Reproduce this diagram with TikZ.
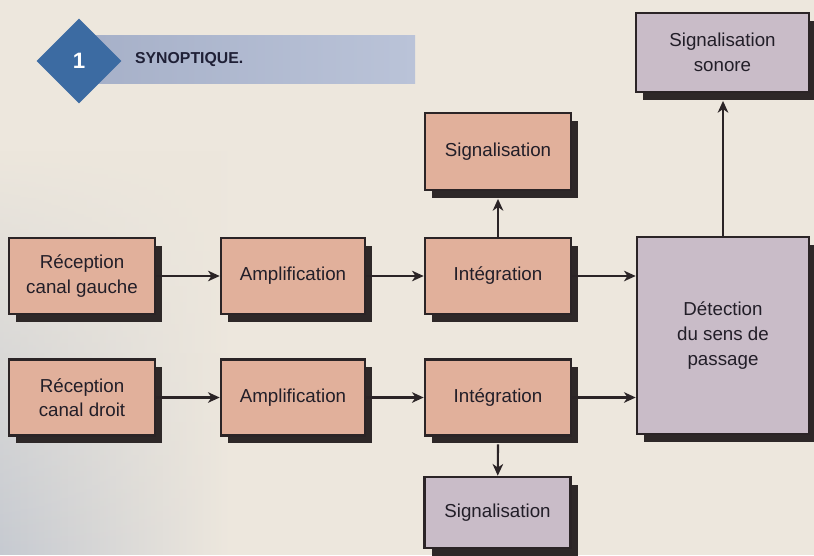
\documentclass[tikz,border=0pt]{standalone}
\usepackage{fontspec}
\setmainfont{Liberation Sans}
\usetikzlibrary{arrows.meta,shapes.geometric,shadows,fadings}
\definecolor{papier}{HTML}{EDE7DD}
\definecolor{brume}{HTML}{C6CAD1}
\definecolor{saumon}{HTML}{E1B09B}
\definecolor{lavande}{HTML}{C9BCC8}
\definecolor{bord}{HTML}{2B2426}
\definecolor{ombre}{HTML}{2E2828}
\definecolor{encre}{HTML}{221E28}
\definecolor{losange}{HTML}{3C6BA2}
\definecolor{bandeA}{HTML}{A6B0C8}
\definecolor{bandeB}{HTML}{BAC3D8}
\definecolor{titre}{HTML}{1F2036}

\begin{document}
\begin{tikzpicture}[x=0.03cm, y=-0.03cm, >={Stealth[length=10pt,width=9pt,inset=3pt]},
    bloc/.style={draw=bord, line width=2.2pt, fill=saumon, text=encre, align=center,
        minimum width=4.38cm, minimum height=2.28cm, inner sep=2pt,
        font=\fontsize{16}{21}\selectfont,
        drop shadow={shadow xshift=6pt, shadow yshift=-6.5pt, fill=ombre, opacity=1}},
    blocmauve/.style={bloc, fill=lavande},
    fleche/.style={->, line width=1.8pt, draw=bord}]
    \useasboundingbox (0,0) rectangle (814,555);
    \fill[papier] (0,0) rectangle (814,555);
    \shade[left color=brume, right color=papier, path fading=north] (0,150) rectangle (230,555);

    \fill[left color=bandeA, right color=bandeB] (79,35) rectangle (415,83);
    \node[diamond, fill=losange, minimum width=2.55cm, minimum height=2.55cm, inner sep=0pt,
        text=white, font=\fontsize{19}{19}\selectfont\bfseries] (num) at (79,61) {1};
    \node[anchor=west, text=titre, font=\fontsize{13.5}{14}\selectfont\bfseries] (titre) at (131,60) {SYNOPTIQUE.};

    \node[bloc] (recg) at (82,276) {Réception\\canal gauche};
    \node[bloc, minimum width=4.32cm] (ampg) at (293,276) {Amplification};
    \node[bloc] (intg) at (498,276) {Intégration};
    \node[bloc, minimum height=2.31cm] (sigh) at (498,151.5) {Signalisation};

    \node[bloc] (recd) at (82,397.5) {Réception\\canal droit};
    \node[bloc, minimum width=4.32cm] (ampd) at (293,397.5) {Amplification};
    \node[bloc] (intd) at (498,397.5) {Intégration};
    \node[blocmauve, minimum height=2.13cm] (sigb) at (497.5,512.5) {Signalisation};

    \node[blocmauve, minimum width=5.16cm, minimum height=5.91cm] (det) at (723,335.5) {Détection\\du sens de\\passage};
    \node[blocmauve, minimum width=5.19cm, minimum height=2.37cm] (sono) at (722.5,52.5) {Signalisation\\sonore};

    \draw[fleche] (recg) -- (ampg);
    \draw[fleche] (ampg) -- (intg);
    \draw[fleche] (intg.east) -- (intg.east -| det.west);
    \draw[fleche] (intg) -- ([yshift=-6.5pt]sigh.south);
    \draw[fleche] (recd) -- (ampd);
    \draw[fleche] (ampd) -- (intd);
    \draw[fleche] (intd.east) -- (intd.east -| det.west);
    \draw[fleche] ([yshift=-6.5pt]intd.south) -- (sigb);
    \draw[fleche] (det.north) -- ([yshift=-6.5pt]det.north |- sono.south);
\end{tikzpicture}
\end{document}
